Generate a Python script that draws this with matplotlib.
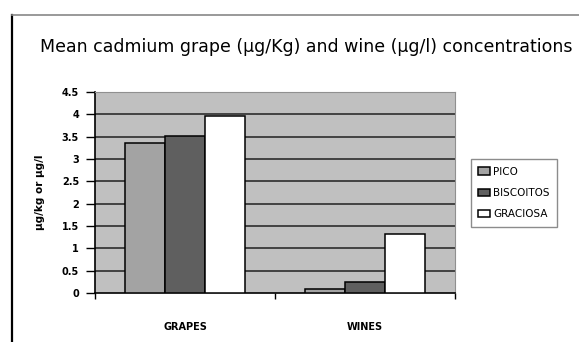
import matplotlib
matplotlib.use('Agg')
import matplotlib.pyplot as plt
from matplotlib.lines import Line2D
import numpy as np

# data
categories = ['GRAPES', 'WINES']
series_names = ['PICO', 'BISCOITOS', 'GRACIOSA']
pico = [3.36, 0.09]
biscoitos = [3.52, 0.25]
graciosa = [3.96, 1.32]
y_ticks = [0, 0.5, 1, 1.5, 2, 2.5, 3, 3.5, 4, 4.5]
y_tick_labels = ['0', '0.5', '1', '1.5', '2', '2.5', '3', '3.5', '4', '4.5']

colors = ['#a3a3a3', '#5f5f5f', '#ffffff']

W, H = 579, 342
fig = plt.figure(figsize=(W / 100, H / 100), dpi=100)
fig.patch.set_facecolor('white')

# chart area border (only left and top visible in the crop)
fig.add_artist(Line2D([12 / W, 12 / W], [0, 1 - 15 / H], transform=fig.transFigure,
                      color='black', lw=1.6))
fig.add_artist(Line2D([12 / W, 1], [1 - 15 / H, 1 - 15 / H], transform=fig.transFigure,
                      color='#888888', lw=1.2))

ax = fig.add_axes([95 / W, 1 - 293 / H, 360 / W, 201 / H])
ax.set_facecolor('#c0c0c0')

x = np.arange(len(categories))
w = 0.223
for i, vals in enumerate([pico, biscoitos, graciosa]):
    ax.bar(x + (i - 1) * w, vals, width=w, color=colors[i], edgecolor='black',
           linewidth=1.1, label=series_names[i], zorder=3)

ax.set_xlim(-0.5, 1.5)
ax.set_ylim(0, 4.5)

for yv in y_ticks[1:]:
    ax.axhline(yv, color='#202020', lw=1.1, zorder=1)

ax.set_yticks(y_ticks)
ax.set_yticklabels(y_tick_labels, fontsize=7, fontweight='bold')
ax.tick_params(axis='y', direction='out', length=6.5, width=1, pad=5)

ax.set_xticks([-0.5, 0.5, 1.5])
ax.set_xticklabels([])
ax.set_xticks(x, minor=True)
ax.set_xticklabels(categories, minor=True, fontsize=7, fontweight='bold')
ax.tick_params(axis='x', which='major', direction='out', length=4, width=1)
ax.tick_params(axis='x', which='minor', length=0, pad=21)

ax.spines['left'].set_color('black')
ax.spines['left'].set_linewidth(1.2)
ax.spines['bottom'].set_color('black')
ax.spines['bottom'].set_linewidth(1.2)
ax.spines['top'].set_color('#909090')
ax.spines['right'].set_color('#909090')

ax.set_ylabel('µg/kg or µg/l', fontsize=7.5, fontweight='bold', labelpad=12)

fig.text(306 / W, 1 - 47 / H,
         'Mean cadmium grape (µg/Kg) and wine (µg/l) concentrations',
         ha='center', va='center', fontsize=12.5)

leg = fig.legend(loc='center left', bbox_to_anchor=(471 / W, 1 - 193 / H),
                 fontsize=7.5, frameon=True, fancybox=False, edgecolor='#707070',
                 handlelength=1.1, handleheight=0.7, handletextpad=0.3,
                 borderpad=0.7, labelspacing=1.1, borderaxespad=0)
leg.get_frame().set_linewidth(1.0)

fig.savefig('out.png', dpi=100)
